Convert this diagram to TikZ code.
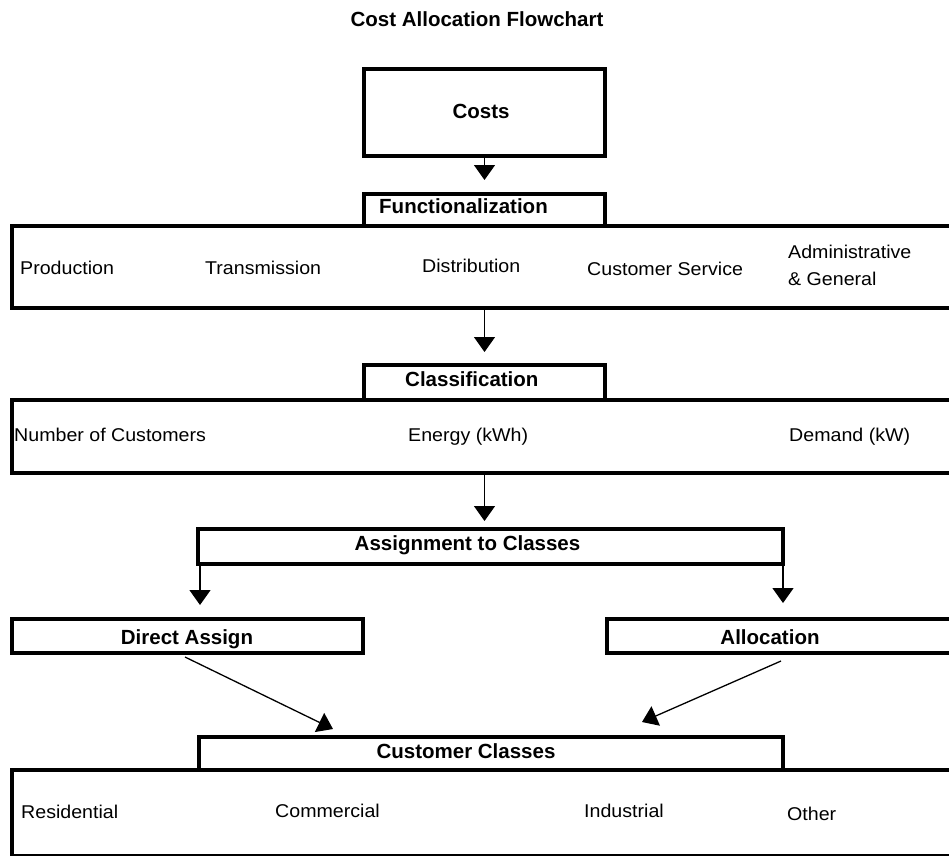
\documentclass[tikz,border=0pt]{standalone}
\usepackage{fontspec}
\setmainfont{Liberation Sans}
\newfontfamily\widesf[FakeStretch=1.06]{Liberation Sans}
\usetikzlibrary{arrows.meta,positioning}
\tikzset{
  >={Triangle[width=21pt,length=15pt]},
  frm/.style={draw=black,line width=4pt,inner sep=0pt,outer sep=0pt},
  hd/.style={font=\bfseries\fontsize{20.5}{24}\selectfont,inner sep=0pt,anchor=base},
  it/.style={font=\widesf\fontsize{18.5}{22}\selectfont,inner sep=0pt,anchor=base west},
  arr/.style={->,line width=1.3pt,draw=black},
}
\newcommand{\boxfrm}[4]{\node[frm,minimum width=#3,minimum height=#4] (#1) at (#2) {};}

\begin{document}
\begin{tikzpicture}[x=1pt,y=-1pt]
  \useasboundingbox (0,0) rectangle (949,855);
  \clip (0,0) rectangle (949,855);
  \node[hd] (ttl) at (477,26) {Cost Allocation Flowchart};
  % frames
  \boxfrm{costs}{484.5,112}{241pt}{87pt}
  \boxfrm{func}{484.5,209.75}{241pt}{31.5pt}
  \boxfrm{wide1}{506,266.75}{988pt}{82.5pt}
  \boxfrm{class}{484.5,382.25}{241pt}{34.5pt}
  \boxfrm{wide2}{506,436}{988pt}{73pt}
  \boxfrm{assign}{490.5,546.25}{585pt}{34.5pt}
  \boxfrm{direct}{187.5,635.75}{351pt}{33.5pt}
  \boxfrm{alloc}{803.5,635.75}{393pt}{33.5pt}
  \boxfrm{cclass}{491,753.5}{584pt}{33pt}
  \boxfrm{wide3}{506,813}{988pt}{86pt}
  % headings
  \node[hd] (costs-t) at (481,118) {Costs};
  \node[hd,anchor=base west] (func-t) at (379,213) {Functionalization};
  \node[hd,anchor=base west] (class-t) at (405,386) {Classification};
  \node[hd] (assign-t) at (467.5,550) {Assignment to Classes};
  \node[hd] (direct-t) at (187,644) {Direct Assign};
  \node[hd] (alloc-t) at (770,644) {Allocation};
  \node[hd] (cclass-t) at (466,758) {Customer Classes};
  % items
  \node[it] (prod) at (20,274) {Production};
  \node[it] (trans) at (205,274) {Transmission};
  \node[it] (dist) at (422,272) {Distribution};
  \node[it] (csvc) at (587,275) {Customer Service};
  \node[it] (admin) at (788,258) {Administrative};
  \node[it] (gen) at (788,285) {\& General};
  \node[it] (ncust) at (14,441) {Number of Customers};
  \node[it] (energy) at (408,441) {Energy (kWh)};
  \node[it] (demand) at (789,441) {Demand (kW)};
  \node[it] (res) at (21,818) {Residential};
  \node[it] (com) at (275,817) {Commercial};
  \node[it] (ind) at (584,817) {Industrial};
  \node[it] (oth) at (787,820) {Other};
  % arrows
  \draw[arr,shorten >=14pt] (costs.south) -- (func.north);
  \draw[arr,shorten >=13pt] (wide1.south -| class.north) -- (class.north);
  \draw[arr,shorten >=8pt] (wide2.south -| class.south) -- (assign.north -| class.south);
  \draw[arr,shorten >=14pt] ([xshift=2pt]assign.south west) -- ([xshift=2pt]assign.south west |- direct.north);
  \draw[arr,shorten >=16pt] (assign.south east) -- (assign.south east |- alloc.north);
  \coordinate (da-out) at (185,657);
  \coordinate (cc-l) at (333,729);
  \coordinate (al-out) at (781,661);
  \coordinate (cc-r) at (642,722);
  \draw[arr] (da-out) -- (cc-l);
  \draw[arr] (al-out) -- (cc-r);
\end{tikzpicture}
\end{document}
